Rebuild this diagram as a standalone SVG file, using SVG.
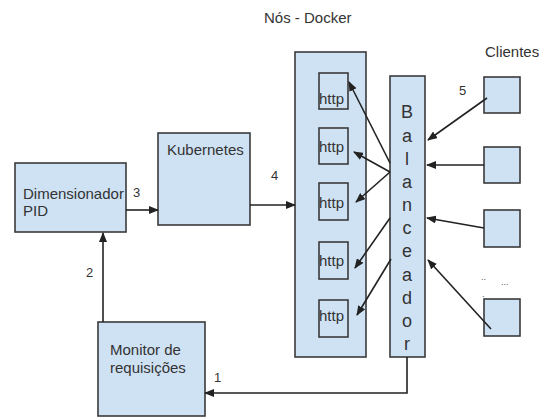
<svg xmlns="http://www.w3.org/2000/svg" width="539" height="418" viewBox="0 0 539 418">
<style>
.box{fill:#cfe2f3;stroke:#3a3a3a;stroke-width:1.6}
.lbl{font-family:"Liberation Sans",Arial,sans-serif;font-size:15px;fill:#333}
.num{font-family:"Liberation Sans",Arial,sans-serif;font-size:13px;fill:#333}
.bal{font-family:"Liberation Sans",Arial,sans-serif;font-size:18px;fill:#333;text-anchor:middle}
.dot{font-family:"Liberation Sans",Arial,sans-serif;font-size:9px;fill:#555}
.con{fill:none;stroke:#222;stroke-width:1.6}
</style>
<defs>
<marker id="ah" markerUnits="userSpaceOnUse" markerWidth="10" markerHeight="8" refX="9" refY="4" orient="auto">
<path d="M0,0 L10,4 L0,8 Z" fill="#222"/>
</marker>
</defs>
<rect width="539" height="418" fill="#fff"/>
<text class="lbl" x="264" y="23">Nós - Docker</text>
<text class="lbl" x="485" y="57">Clientes</text>
<g id="dimensionador">
<rect class="box" x="15" y="163" width="111" height="69"/>
<text class="lbl" x="23" y="199">Dimensionador</text>
<text class="lbl" x="23" y="216">PID</text>
</g>
<g id="kubernetes">
<rect class="box" x="158" y="133" width="92" height="92"/>
<text class="lbl" x="167" y="155">Kubernetes</text>
</g>
<g id="monitor">
<rect class="box" x="98" y="322" width="107" height="94"/>
<text class="lbl" x="110" y="355">Monitor de</text>
<text class="lbl" x="110" y="373">requisições</text>
</g>
<g id="docker">
<rect class="box" x="295" y="52" width="71" height="305"/>
</g>
<g id="http1"><rect class="box" x="319" y="73" width="29" height="36"/><text class="lbl" x="319" y="104">http</text></g>
<g id="http2"><rect class="box" x="319" y="128" width="29" height="36"/><text class="lbl" x="319" y="152">http</text></g>
<g id="http3"><rect class="box" x="319" y="183" width="29" height="37"/><text class="lbl" x="319" y="208">http</text></g>
<g id="http4"><rect class="box" x="319" y="242" width="29" height="37"/><text class="lbl" x="319" y="266">http</text></g>
<g id="http5"><rect class="box" x="319" y="300" width="29" height="37"/><text class="lbl" x="319" y="321">http</text></g>
<g id="balanceador">
<rect class="box" x="390" y="76" width="35" height="281"/>
<text class="bal" x="407" y="118">B</text>
<text class="bal" x="407" y="142">a</text>
<text class="bal" x="407" y="165">l</text>
<text class="bal" x="407" y="188">a</text>
<text class="bal" x="407" y="211">n</text>
<text class="bal" x="407" y="234">c</text>
<text class="bal" x="407" y="257">e</text>
<text class="bal" x="407" y="281">a</text>
<text class="bal" x="407" y="304">d</text>
<text class="bal" x="407" y="327">o</text>
<text class="bal" x="407" y="350">r</text>
</g>
<g id="cliente1"><rect class="box" x="484" y="77" width="36" height="36"/></g>
<g id="cliente2"><rect class="box" x="484" y="147" width="36" height="36"/></g>
<g id="cliente3"><rect class="box" x="484" y="210" width="36" height="37"/></g>
<g id="cliente4"><rect class="box" x="484" y="299" width="36" height="37"/></g>
<text class="dot" x="481" y="280">..</text>
<text class="dot" x="501" y="285">...</text>
<text class="dot" x="482" y="297">.</text>
<g id="connectors">
<line class="con" x1="103" y1="322" x2="103" y2="233" marker-end="url(#ah)"/>
<line class="con" x1="126" y1="210" x2="158" y2="210" marker-end="url(#ah)"/>
<line class="con" x1="250" y1="205" x2="295" y2="205" marker-end="url(#ah)"/>
<polyline class="con" points="407,357 407,393 205,393" marker-end="url(#ah)"/>
<line class="con" x1="390" y1="163" x2="349" y2="82" marker-end="url(#ah)"/>
<line class="con" x1="390" y1="172" x2="354" y2="152" marker-end="url(#ah)"/>
<line class="con" x1="390" y1="172" x2="356" y2="202" marker-end="url(#ah)"/>
<line class="con" x1="390" y1="218" x2="355" y2="268" marker-end="url(#ah)"/>
<line class="con" x1="391" y1="259" x2="357" y2="315" marker-end="url(#ah)"/>
<line class="con" x1="487" y1="98" x2="428" y2="140" marker-end="url(#ah)"/>
<line class="con" x1="484" y1="165" x2="427" y2="165" marker-end="url(#ah)"/>
<line class="con" x1="484" y1="228" x2="427" y2="218" marker-end="url(#ah)"/>
<line class="con" x1="491" y1="329" x2="428" y2="260" marker-end="url(#ah)"/>
<text class="num" x="214" y="382">1</text>
<text class="num" x="86" y="277">2</text>
<text class="num" x="133" y="197">3</text>
<text class="num" x="271" y="180">4</text>
<text class="num" x="459" y="95">5</text>
</g>
</svg>
